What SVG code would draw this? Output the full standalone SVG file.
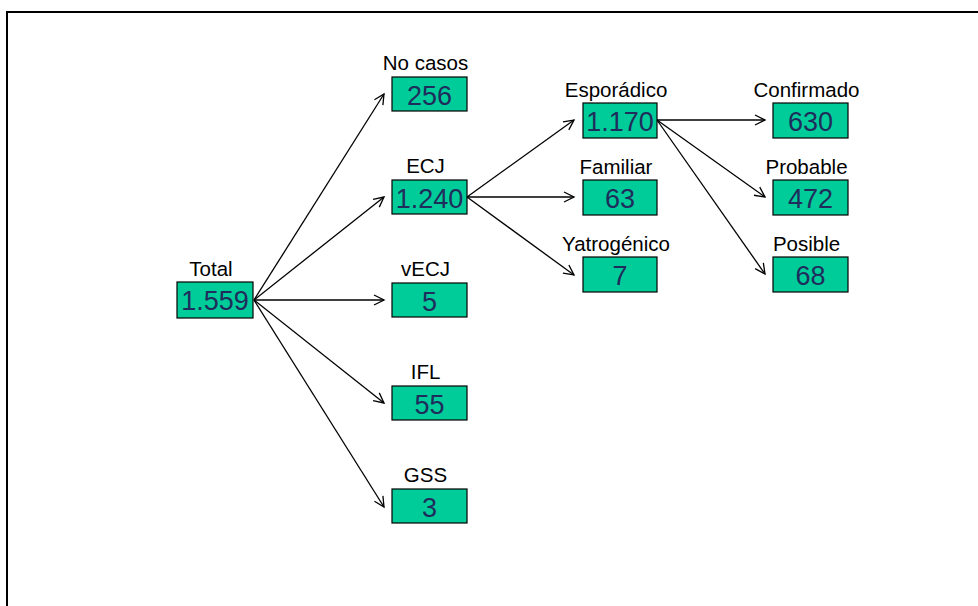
<svg xmlns="http://www.w3.org/2000/svg" width="978" height="606" viewBox="0 0 978 606">
  <defs>
    <marker id="arr" markerUnits="userSpaceOnUse" markerWidth="14" markerHeight="14" refX="11" refY="6" orient="auto">
      <path d="M1,1 L11,6 L1,11" fill="none" stroke="#000" stroke-width="1.3"/>
    </marker>
    <style>
      .box { fill: #00CC99; stroke: #000; stroke-width: 1.2; }
      .lbl { font-family: "Liberation Sans", Arial, sans-serif; font-size: 20.5px; fill: #000; text-anchor: middle; }
      .num { font-family: "Liberation Sans", Arial, sans-serif; font-size: 27px; fill: #1f2d5c; text-anchor: middle; }
      .conn line { stroke: #000; stroke-width: 1.3; fill: none; marker-end: url(#arr); }
    </style>
  </defs>
  <rect width="978" height="606" fill="#fff"/>
  <rect x="7" y="12" width="1000" height="1000" fill="none" stroke="#000" stroke-width="2"/>

  <g id="connectors" class="conn">
    <line x1="254" y1="300" x2="384" y2="94"/>
    <line x1="254" y1="300" x2="384" y2="197"/>
    <line x1="254" y1="300" x2="384" y2="300"/>
    <line x1="254" y1="300" x2="384" y2="403"/>
    <line x1="254" y1="300" x2="384" y2="507"/>
    <line x1="467" y1="197" x2="574" y2="120"/>
    <line x1="467" y1="197" x2="574" y2="197"/>
    <line x1="467" y1="197" x2="574" y2="275"/>
    <line x1="657" y1="120" x2="765" y2="120"/>
    <line x1="657" y1="120" x2="765" y2="197"/>
    <line x1="657" y1="120" x2="765" y2="274"/>
  </g>

  <g id="total">
    <text class="lbl" x="211" y="276">Total</text>
    <rect class="box" x="177" y="282" width="76" height="36"/>
    <text class="num" x="215" y="310">1.559</text>
  </g>

  <g id="nocasos">
    <text class="lbl" x="425.5" y="70">No casos</text>
    <rect class="box" x="392" y="77" width="75" height="34"/>
    <text class="num" x="429.5" y="105">256</text>
  </g>
  <g id="ecj">
    <text class="lbl" x="425.5" y="173">ECJ</text>
    <rect class="box" x="392" y="180" width="75" height="34"/>
    <text class="num" x="429.5" y="208">1.240</text>
  </g>
  <g id="vecj">
    <text class="lbl" x="425.5" y="276">vECJ</text>
    <rect class="box" x="392" y="283" width="75" height="34"/>
    <text class="num" x="429.5" y="311">5</text>
  </g>
  <g id="ifl">
    <text class="lbl" x="425.5" y="379">IFL</text>
    <rect class="box" x="392" y="386" width="75" height="34"/>
    <text class="num" x="429.5" y="414">55</text>
  </g>
  <g id="gss">
    <text class="lbl" x="425.5" y="482">GSS</text>
    <rect class="box" x="392" y="489" width="75" height="34"/>
    <text class="num" x="429.5" y="517">3</text>
  </g>

  <g id="esporadico">
    <text class="lbl" x="616" y="97">Esporádico</text>
    <rect class="box" x="583" y="103" width="74" height="35"/>
    <text class="num" x="620" y="131">1.170</text>
  </g>
  <g id="familiar">
    <text class="lbl" x="616" y="174">Familiar</text>
    <rect class="box" x="583" y="180" width="74" height="35"/>
    <text class="num" x="620" y="208">63</text>
  </g>
  <g id="yatrogenico">
    <text class="lbl" x="616" y="251">Yatrogénico</text>
    <rect class="box" x="583" y="257" width="74" height="35"/>
    <text class="num" x="620" y="285">7</text>
  </g>

  <g id="confirmado">
    <text class="lbl" x="806.5" y="97">Confirmado</text>
    <rect class="box" x="773" y="103" width="75" height="35"/>
    <text class="num" x="810.5" y="131">630</text>
  </g>
  <g id="probable">
    <text class="lbl" x="806.5" y="174">Probable</text>
    <rect class="box" x="773" y="180" width="75" height="35"/>
    <text class="num" x="810.5" y="208">472</text>
  </g>
  <g id="posible">
    <text class="lbl" x="806.5" y="251">Posible</text>
    <rect class="box" x="773" y="257" width="75" height="35"/>
    <text class="num" x="810.5" y="285">68</text>
  </g>
</svg>
